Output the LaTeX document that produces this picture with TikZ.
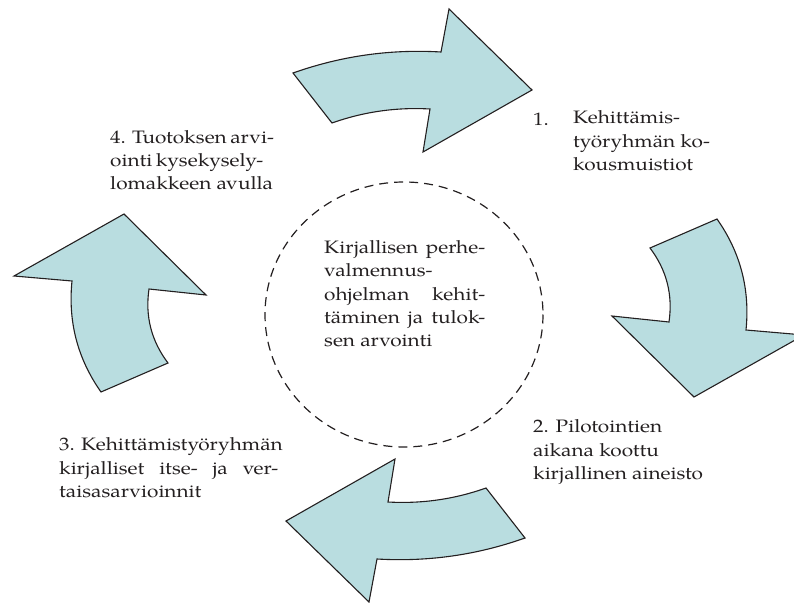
\documentclass[tikz,border=0pt]{standalone}
\usepackage{fontspec}
\setmainfont{texgyrepagella}[Extension=.otf, UprightFont=*-regular, BoldFont=*-bold, ItalicFont=*-italic, BoldItalicFont=*-bolditalic, FakeStretch=1.156]
\definecolor{arrowfill}{RGB}{185,221,224}
\definecolor{ink}{RGB}{35,31,32}
\begin{document}
\begin{tikzpicture}[x=1bp,y=-1bp,
  cyclearrow/.style={fill=arrowfill, draw=ink, line width=1.1bp, line join=miter},
  % multi-line labels are placed by the baseline of their last line
  cyclelabel/.style={inner sep=0pt, anchor=base west, align=left, text=ink,
    font=\fontsize{18bp}{23.3bp}\selectfont},
  hub/.style={draw=ink, line width=1.2bp, dash pattern=on 9bp off 6bp}]
\useasboundingbox (0,0) rectangle (794,603);

\begin{scope}
\clip (0,0) rectangle (794,603);
% top arrow, pointing right
\draw[cyclearrow] (293,73) .. controls (341,56) and (390,49) .. (441,52)
  -- (449,9) -- (532,90) -- (423,152) -- (430,109)
  .. controls (396.4,107.1) and (363.8,111.7) .. (332,123) -- cycle;
% right arrow, pointing down
\draw[cyclearrow] (717,219) .. controls (740.5,252.4) and (750.1,289.4) .. (746,330)
  -- (804,335) -- (694,397) -- (612,316) -- (669,322)
  .. controls (673,294.6) and (666.6,270) .. (650,248) -- cycle;
% bottom arrow, pointing left
\draw[cyclearrow] (525,538) .. controls (477,555) and (428,562) .. (377,559)
  -- (369,602) -- (286,521) -- (395,459) -- (388,502)
  .. controls (421.6,503.9) and (454.2,499.3) .. (486,488) -- cycle;
% left arrow, pointing up
\draw[cyclearrow] (101,392) .. controls (77.5,358.6) and (67.9,321.6) .. (72,281)
  -- (14,276) -- (124,214) -- (206,295) -- (149,289)
  .. controls (145,316.4) and (151.4,341) .. (168,363) -- cycle;
\end{scope}

% dashed hub
\draw[hub] (404,314.5) ellipse [x radius=139, y radius=132.5];
\node[cyclelabel] (core) at (324,346.6)
  {\makebox[161bp][s]{Kirjallisen perhe-}\\
   valmennus-\\
   \makebox[161bp][s]{ohjelman kehit-}\\
   \makebox[161bp][s]{täminen ja tulok-}\\
   sen arvointi};

% step labels
\node[cyclelabel] (num1) at (533,125.3) {1.};
\node[cyclelabel] (step1) at (573,170.5)
  {Kehittämis-\\ työryhmän ko-\\ kousmuistiot};
\node[cyclelabel] (step2) at (533,479.5)
  {2. Pilotointien\\ aikana koottu\\ kirjallinen aineisto};
\node[cyclelabel] (step3) at (59,497.3)
  {\makebox[219bp][s]{3. Kehittämistyöryhmän}\\
   \makebox[219bp][s]{kirjalliset itse- ja ver-}\\
   taisasarvioinnit};
\node[cyclelabel] (step4) at (110,190)
  {\makebox[153bp][s]{4. Tuotoksen arvi-}\\
   \makebox[153bp][s]{ointi kysekysely-}\\
   lomakkeen avulla};
\end{tikzpicture}
\end{document}
